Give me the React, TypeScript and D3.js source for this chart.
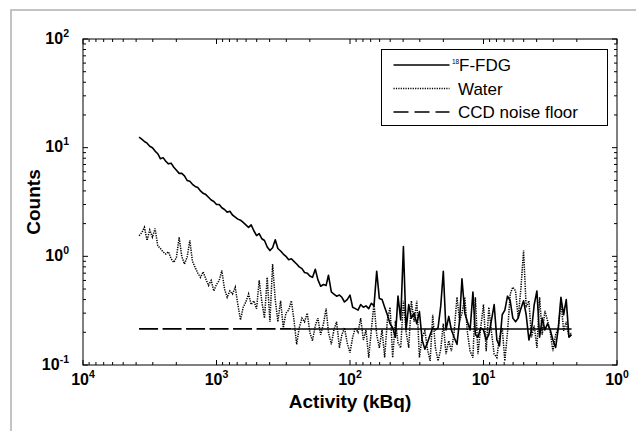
import React from 'react';
import * as d3 from 'd3';

// activity of each frame (kBq), decaying from left to right
const activity = [
  3802, 3631, 3467, 3311, 3162, 3020, 2884, 2754, 2630, 2512,
  2399, 2291, 2188, 2089, 1995, 1905, 1820, 1738, 1660, 1585,
  1514, 1445, 1380, 1318, 1259, 1202, 1148, 1096, 1047, 1000,
  955, 912, 871, 832, 794, 759, 724, 692, 661, 631,
  603, 575, 550, 525, 501, 479, 457, 437, 417, 398,
  380, 363, 347, 331, 316, 302, 288, 275, 263, 251,
  240, 229, 219, 209, 200, 191, 182, 174, 166, 158,
  151, 145, 138, 132, 126, 120, 115, 110, 105, 100,
  95.5, 91.2, 87.1, 83.2, 79.4, 75.9, 72.4, 69.2, 66.1, 63.1,
  60.3, 57.5, 55.0, 52.5, 50.1, 47.9, 45.7, 43.7, 41.7, 39.8,
  38.0, 36.3, 34.7, 33.1, 31.6, 30.2, 28.8, 27.5, 26.3, 25.1,
  24.0, 22.9, 21.9, 20.9, 20.0, 19.1, 18.2, 17.4, 16.6, 15.8,
  15.1, 14.5, 13.8, 13.2, 12.6, 12.0, 11.5, 11.0, 10.5, 10.0,
  9.55, 9.12, 8.71, 8.32, 7.94, 7.59, 7.24, 6.92, 6.61, 6.31,
  6.03, 5.75, 5.50, 5.25, 5.01, 4.79, 4.57, 4.37, 4.17, 3.98,
  3.80, 3.63, 3.47, 3.31, 3.16, 3.02, 2.88, 2.75, 2.63, 2.51,
  2.40, 2.29, 2.19,
];

const fdgCounts = [
  12.5, 12.0, 11.4, 11.0, 10.3, 10.0, 9.3, 8.8, 7.9, 8.1,
  7.5, 7.1, 7.2, 6.6, 6.2, 5.8, 5.8, 5.5, 5.0, 4.9,
  4.6, 4.4, 4.3, 4.0, 3.8, 3.7, 3.5, 3.3, 3.2, 3.0,
  3.0, 2.8, 2.7, 2.55, 2.6, 2.4, 2.3, 2.2, 2.15, 2.05,
  1.95, 1.85, 1.95, 1.72, 1.55, 1.62, 1.45, 1.40, 1.22, 1.13,
  1.20, 1.42, 1.18, 1.12, 1.05, 1.00, 0.93, 0.95, 0.90, 0.85,
  0.80, 0.77, 0.71, 0.70, 0.66, 0.64, 0.76, 0.61, 0.53, 0.55,
  0.54, 0.67, 0.47, 0.45, 0.43, 0.44, 0.42, 0.38, 0.40, 0.44,
  0.34, 0.33, 0.32, 0.36, 0.34, 0.35, 0.33, 0.37, 0.35, 0.73,
  0.41, 0.40, 0.34, 0.29, 0.24, 0.22, 0.18, 0.43, 0.26, 1.23,
  0.21, 0.36, 0.27, 0.30, 0.24, 0.31, 0.17, 0.14, 0.16, 0.19,
  0.22, 0.21, 0.22, 0.35, 0.73, 0.21, 0.28, 0.21, 0.18, 0.155,
  0.26, 0.62, 0.30, 0.25, 0.21, 0.47, 0.19, 0.18, 0.22, 0.21,
  0.17, 0.19, 0.26, 0.36, 0.17, 0.15, 0.29, 0.32, 0.43, 0.39,
  0.27, 0.25, 0.27, 0.33, 0.39, 0.29, 0.17, 0.21, 0.36, 0.48,
  0.18, 0.27, 0.21, 0.24, 0.21, 0.17, 0.145, 0.22, 0.42, 0.29,
  0.40, 0.18, 0.19,
];

const waterCounts = [
  1.55, 1.65, 1.85, 1.40, 1.75, 1.50, 1.80, 1.25, 1.18, 1.10,
  1.05, 1.10, 0.95, 0.88, 0.98, 1.50, 1.00, 0.85, 0.98, 1.40,
  0.90, 0.79, 0.70, 0.64, 0.72, 0.62, 0.54, 0.60, 0.48, 0.55,
  0.60, 0.74, 0.50, 0.42, 0.48, 0.45, 0.52, 0.36, 0.26, 0.34,
  0.38, 0.45, 0.36, 0.39, 0.33, 0.60, 0.38, 0.27, 0.64, 0.25,
  0.85, 0.40, 0.25, 0.39, 0.22, 0.30, 0.32, 0.39, 0.26, 0.155,
  0.22, 0.27, 0.25, 0.30, 0.20, 0.167, 0.23, 0.27, 0.19, 0.24,
  0.33, 0.20, 0.155, 0.21, 0.25, 0.144, 0.19, 0.22, 0.16, 0.13,
  0.18, 0.22, 0.20, 0.27, 0.17, 0.21, 0.117, 0.21, 0.37, 0.19,
  0.144, 0.21, 0.117, 0.26, 0.34, 0.117, 0.255, 0.16, 0.144, 0.39,
  0.20, 0.144, 0.39, 0.25, 0.39, 0.117, 0.18, 0.206, 0.14, 0.109,
  0.29, 0.144, 0.109, 0.14, 0.24, 0.126, 0.167, 0.134, 0.20, 0.42,
  0.255, 0.30, 0.42, 0.20, 0.134, 0.117, 0.42, 0.126, 0.22, 0.36,
  0.134, 0.34, 0.20, 0.126, 0.117, 0.18, 0.22, 0.109, 0.20, 0.45,
  0.52, 0.48, 0.27, 0.50, 1.13, 0.34, 0.39, 0.18, 0.23, 0.144,
  0.42, 0.19, 0.315, 0.255, 0.20, 0.134, 0.19, 0.22, 0.39, 0.206,
  0.25, 0.18, 0.20,
];

const noiseFloor = 0.215;
const noiseFloorMerge = 275; // kBq where the dashes run together in the original

const xTickExps = [4, 3, 2, 1, 0];
const yTickExps = [-1, 0, 1, 2];
const legendLabels = ['F-FDG', 'Water', 'CCD noise floor'];

const W = 636;
const H = 431;
const margin = { top: 39, right: 19, bottom: 66, left: 83 };

export default function App() {
  const x = d3.scaleLog().domain([1e4, 1]).range([margin.left, W - margin.right]);
  const y = d3.scaleLog().domain([0.1, 100]).range([H - margin.bottom, margin.top]);
  const [x0, x1] = x.range();
  const [yb, yt] = y.range();

  const line = d3.line<[number, number]>().x(d => x(d[0])).y(d => y(d[1]));
  const fdg = activity.map((a, i) => [a, fdgCounts[i]] as [number, number]);
  const water = activity.map((a, i) => [a, waterCounts[i]] as [number, number]);
  const aMax = activity[0];
  const aMin = activity[activity.length - 1];

  const xMinor: number[] = [];
  for (let k = 0; k < 4; k++) for (let m = 2; m < 10; m++) xMinor.push(m * Math.pow(10, k));
  const yMinor: number[] = [];
  for (let k = -1; k < 2; k++) for (let m = 2; m < 10; m++) yMinor.push(m * Math.pow(10, k));

  const major = 5;
  const minor = 3;

  return (
    <svg width={W} height={H} style={{ position: 'absolute', left: 0, top: 0 }}
      fontFamily="'Liberation Sans', Arial, Helvetica, sans-serif">
      <rect x={0} y={0} width={W} height={H} fill="#fff" />
      <rect x={11} y={10} width={700} height={500} fill="none" stroke="#b0b0b0" strokeWidth={1.5} />
      <defs>
        <clipPath id="plot">
          <rect x={x0} y={yt} width={x1 - x0} height={yb - yt} />
        </clipPath>
      </defs>

      <g clipPath="url(#plot)" fill="none">
        <path d={line([[aMax, noiseFloor], [noiseFloorMerge, noiseFloor]]) || ''}
          stroke="#000" strokeWidth={1.6} strokeDasharray="19,4.5" />
        <path d={line([[noiseFloorMerge, noiseFloor], [aMin, noiseFloor]]) || ''}
          stroke="#000" strokeWidth={1.5} />
        <path d={line(water) || ''} stroke="#000" strokeWidth={1.5} strokeDasharray="1.3,1.1" />
        <path d={line(fdg) || ''} stroke="#000" strokeWidth={1.6} strokeLinejoin="round" />
      </g>

      {/* axes box */}
      <rect x={x0} y={yt} width={x1 - x0} height={yb - yt} fill="none" stroke="#000" strokeWidth={1} />
      <g stroke="#000" strokeWidth={1}>
        {xTickExps.map(e => {
          const px = x(Math.pow(10, e));
          return (
            <g key={'xm' + e}>
              <line x1={px} x2={px} y1={yb} y2={yb - major} />
              <line x1={px} x2={px} y1={yt} y2={yt + major} />
            </g>
          );
        })}
        {xMinor.map(v => (
          <g key={'xn' + v}>
            <line x1={x(v)} x2={x(v)} y1={yb} y2={yb - minor} />
            <line x1={x(v)} x2={x(v)} y1={yt} y2={yt + minor} />
          </g>
        ))}
        {yTickExps.map(e => {
          const py = y(Math.pow(10, e));
          return (
            <g key={'ym' + e}>
              <line x1={x0} x2={x0 + major} y1={py} y2={py} />
              <line x1={x1} x2={x1 - major} y1={py} y2={py} />
            </g>
          );
        })}
        {yMinor.map(v => (
          <g key={'yn' + v}>
            <line x1={x0} x2={x0 + minor} y1={y(v)} y2={y(v)} />
            <line x1={x1} x2={x1 - minor} y1={y(v)} y2={y(v)} />
          </g>
        ))}
      </g>

      {/* tick labels */}
      <g fontWeight="bold" fill="#000">
        {xTickExps.map(e => (
          <text key={'xl' + e} x={x(Math.pow(10, e))} y={yb + 20} textAnchor="middle" fontSize={16}>
            10<tspan fontSize={10.5} dy={-7}>{e}</tspan>
          </text>
        ))}
        {yTickExps.map(e => (
          <text key={'yl' + e} x={x0 - 14} y={y(Math.pow(10, e)) + 4.5} textAnchor="end" fontSize={16}>
            10<tspan fontSize={10.5} dy={-7}>{e}</tspan>
          </text>
        ))}
        <text x={(x0 + x1) / 2} y={408} textAnchor="middle" fontSize={19}>Activity (kBq)</text>
        <text transform={`translate(40,${(yt + yb) / 2}) rotate(-90)`} textAnchor="middle" fontSize={19}>Counts</text>
      </g>

      {/* legend */}
      <g>
        <rect x={381.5} y={49.5} width={226} height={76} fill="#fff" stroke="#000" strokeWidth={1} />
        <line x1={393.5} x2={449.5} y1={65} y2={65} stroke="#000" strokeWidth={1.5} />
        <line x1={393.5} x2={449.5} y1={88.5} y2={88.5} stroke="#000" strokeWidth={1.3} strokeDasharray="1.2,1.2" />
        <line x1={393.5} x2={449.5} y1={112} y2={112} stroke="#000" strokeWidth={1.6} strokeDasharray="15,6" />
        <text x={452} y={64} fontSize={6.5} fill="#000">18</text>
        <text x={459} y={71} fontSize={17} fill="#000">{legendLabels[0]}</text>
        <text x={458} y={94.5} fontSize={17} fill="#000">{legendLabels[1]}</text>
        <text x={458} y={118} fontSize={17} fill="#000">{legendLabels[2]}</text>
      </g>
    </svg>
  );
}
